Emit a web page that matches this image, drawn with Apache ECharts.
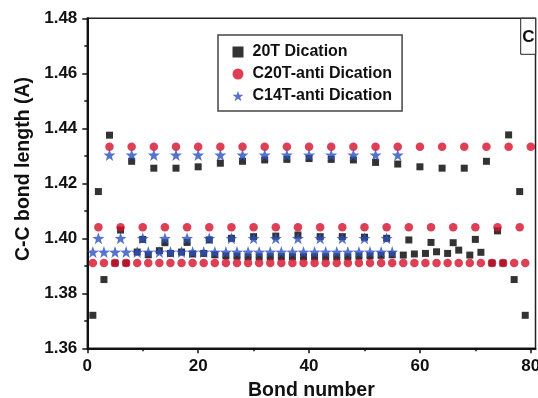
<!DOCTYPE html>
<html>
<head>
<meta charset="utf-8">
<script src="https://cdn.jsdelivr.net/npm/echarts@6.0.0/dist/echarts.min.js"></script>
<style>
  html, body { margin: 0; padding: 0; background: #fff; }
  #chart { width: 538px; height: 398px; }
</style>
</head>
<body>
<div id="chart"></div>
<script>
// bond length values, bond number = index + 1
var t20Dication = [
  1.372, 1.417, 1.385, 1.4375,
  1.391, 1.403, 1.391, 1.428,
  1.395, 1.3996, 1.394, 1.4255,
  1.3955, 1.3984, 1.3945, 1.4255,
  1.395, 1.3985, 1.3943, 1.426,
  1.3945, 1.3994, 1.394, 1.4273,
  1.3936, 1.400, 1.3935, 1.428,
  1.3933, 1.4006, 1.3933, 1.4285,
  1.3933, 1.4008, 1.3933, 1.4287,
  1.3933, 1.4012, 1.3933, 1.429,
  1.3933, 1.4006, 1.3933, 1.4287,
  1.3933, 1.4006, 1.3933, 1.4285,
  1.3935, 1.4004, 1.3936, 1.4276,
  1.3938, 1.400, 1.394, 1.427,
  1.3939, 1.3994, 1.3943, 1.426,
  1.3945, 1.3985, 1.3951, 1.4255,
  1.3945, 1.3984, 1.3957, 1.4255,
  1.3939, 1.3996, 1.3949, 1.428,
  1.391, 1.4027, 1.391, 1.4376,
  1.385, 1.417, 1.372
];

var c20tAnti = [
  1.391, 1.404, 1.391, 1.4333,
  1.391, 1.404, 1.391, 1.4333,
  1.391, 1.404, 1.391, 1.4333,
  1.391, 1.404, 1.391, 1.4333,
  1.391, 1.404, 1.391, 1.4333,
  1.391, 1.404, 1.391, 1.4333,
  1.391, 1.404, 1.391, 1.4333,
  1.391, 1.404, 1.391, 1.4333,
  1.391, 1.404, 1.391, 1.4333,
  1.391, 1.404, 1.391, 1.4333,
  1.391, 1.404, 1.391, 1.4333,
  1.391, 1.404, 1.391, 1.4333,
  1.391, 1.404, 1.391, 1.4333,
  1.391, 1.404, 1.391, 1.4333,
  1.391, 1.404, 1.391, 1.4333,
  1.391, 1.404, 1.391, 1.4333,
  1.391, 1.404, 1.391, 1.4333,
  1.391, 1.404, 1.391, 1.4333,
  1.391, 1.404, 1.391, 1.4333,
  1.391, 1.404, 1.391, 1.4333
];

var c14tAnti = [
  1.395, 1.400, 1.395, 1.4303,
  1.395, 1.400, 1.395, 1.4303,
  1.395, 1.400, 1.395, 1.4303,
  1.395, 1.400, 1.395, 1.4303,
  1.395, 1.400, 1.395, 1.4303,
  1.395, 1.400, 1.395, 1.4303,
  1.395, 1.400, 1.395, 1.4303,
  1.395, 1.400, 1.395, 1.4303,
  1.395, 1.400, 1.395, 1.4303,
  1.395, 1.400, 1.395, 1.4303,
  1.395, 1.400, 1.395, 1.4303,
  1.395, 1.400, 1.395, 1.4303,
  1.395, 1.400, 1.395, 1.4303,
  1.395, 1.400, 1.395, 1.4303
];

var seriesNames = ['20T Dication', 'C20T-anti Dication', 'C14T-anti Dication'];
var xMajorTicks = [0, 20, 40, 60, 80];
var xMinorTicks = [10, 30, 50, 70];

var FONT = "'Liberation Sans', Arial, sans-serif";
var STAR = 'path://M0,-10L2.35,-3.24L9.51,-3.09L3.8,1.24L5.88,8.09L0,4L-5.88,8.09L-3.8,1.24L-9.51,-3.09L-2.35,-3.24Z';

function toPoints(arr) {
  return arr.map(function (v, i) { return [i + 1, v]; });
}

var chart = echarts.init(document.getElementById('chart'));

chart.setOption({
  backgroundColor: '#fff',
  animation: false,
  textStyle: { fontFamily: FONT },
  grid: {
    left: 87.3, top: 18.3, right: 2.5, bottom: 49.7,
    containLabel: false, outerBoundsMode: 'none',
    show: true, borderColor: '#222', borderWidth: 1.5
  },
  legend: {
    orient: 'vertical',
    left: 218, top: 35,
    padding: [9, 10, 7, 14.5],
    itemWidth: 11, itemHeight: 11, itemGap: 6,
    borderColor: '#444', borderWidth: 1.5,
    data: seriesNames,
    textStyle: {
      fontFamily: FONT, fontWeight: 'bold', fontSize: 16, color: '#111',
      lineHeight: 14, padding: [0, 0, 0, 4]
    }
  },
  xAxis: [{
    type: 'value', min: 0, max: 80.85, interval: 20,
    position: 'bottom',
    name: 'Bond number', nameLocation: 'middle', nameGap: 27,
    nameTextStyle: { fontFamily: FONT, fontWeight: 'bold', fontSize: 19.5, color: '#111' },
    axisLine: { lineStyle: { color: '#111', width: 2 } },
    axisTick: { customValues: xMajorTicks, length: 5, lineStyle: { color: '#111', width: 1.5 } },
    axisLabel: {
      customValues: xMajorTicks, margin: 10,
      fontFamily: FONT, fontWeight: 'bold', fontSize: 17, color: '#111'
    },
    splitLine: { show: false }
  }, {
    type: 'value', min: 0, max: 80.85, interval: 10,
    position: 'bottom',
    axisLine: { show: false },
    axisTick: { customValues: xMinorTicks, length: 3, lineStyle: { color: '#111', width: 1.5 } },
    axisLabel: { show: false },
    splitLine: { show: false }
  }],
  yAxis: {
    type: 'value', min: 1.36, max: 1.48, interval: 0.02,
    axisLine: { show: true, lineStyle: { color: '#111', width: 2 } },
    axisTick: { show: true, length: 5, lineStyle: { color: '#111', width: 1.5 } },
    minorTick: { show: true, splitNumber: 2, length: 3, lineStyle: { color: '#111', width: 1.5 } },
    axisLabel: {
      margin: 10,
      fontFamily: FONT, fontWeight: 'bold', fontSize: 17, color: '#111',
      formatter: function (v) { return v.toFixed(2); }
    },
    splitLine: { show: false }
  },
  graphic: [
    {
      type: 'text', x: 23.5, y: 169, rotation: Math.PI / 2,
      style: {
        text: 'C-C bond length (A)', textAlign: 'center', textVerticalAlign: 'middle',
        font: 'bold 19.5px ' + FONT, fill: '#111'
      }
    },
    {
      type: 'rect',
      shape: { x: 520.7, y: 18.3, width: 15, height: 36 },
      style: { fill: '#fff', stroke: '#222', lineWidth: 1 }
    },
    {
      type: 'text', x: 528.5, y: 37,
      style: {
        text: 'C', textAlign: 'center', textVerticalAlign: 'middle',
        font: 'bold 17px ' + FONT, fill: '#111'
      }
    }
  ],
  series: [
    {
      name: seriesNames[0], type: 'scatter', symbol: 'rect', symbolSize: 7,
      itemStyle: { color: '#000' },
      data: toPoints(t20Dication)
    },
    {
      name: seriesNames[1], type: 'scatter', symbol: 'circle', symbolSize: 8.5,
      itemStyle: { color: '#d4102a' },
      data: toPoints(c20tAnti)
    },
    {
      name: seriesNames[2], type: 'scatter', symbol: STAR, symbolSize: 12,
      itemStyle: { color: '#2a50bd' },
      data: toPoints(c14tAnti)
    }
  ]
});
</script>
</body>
</html>
